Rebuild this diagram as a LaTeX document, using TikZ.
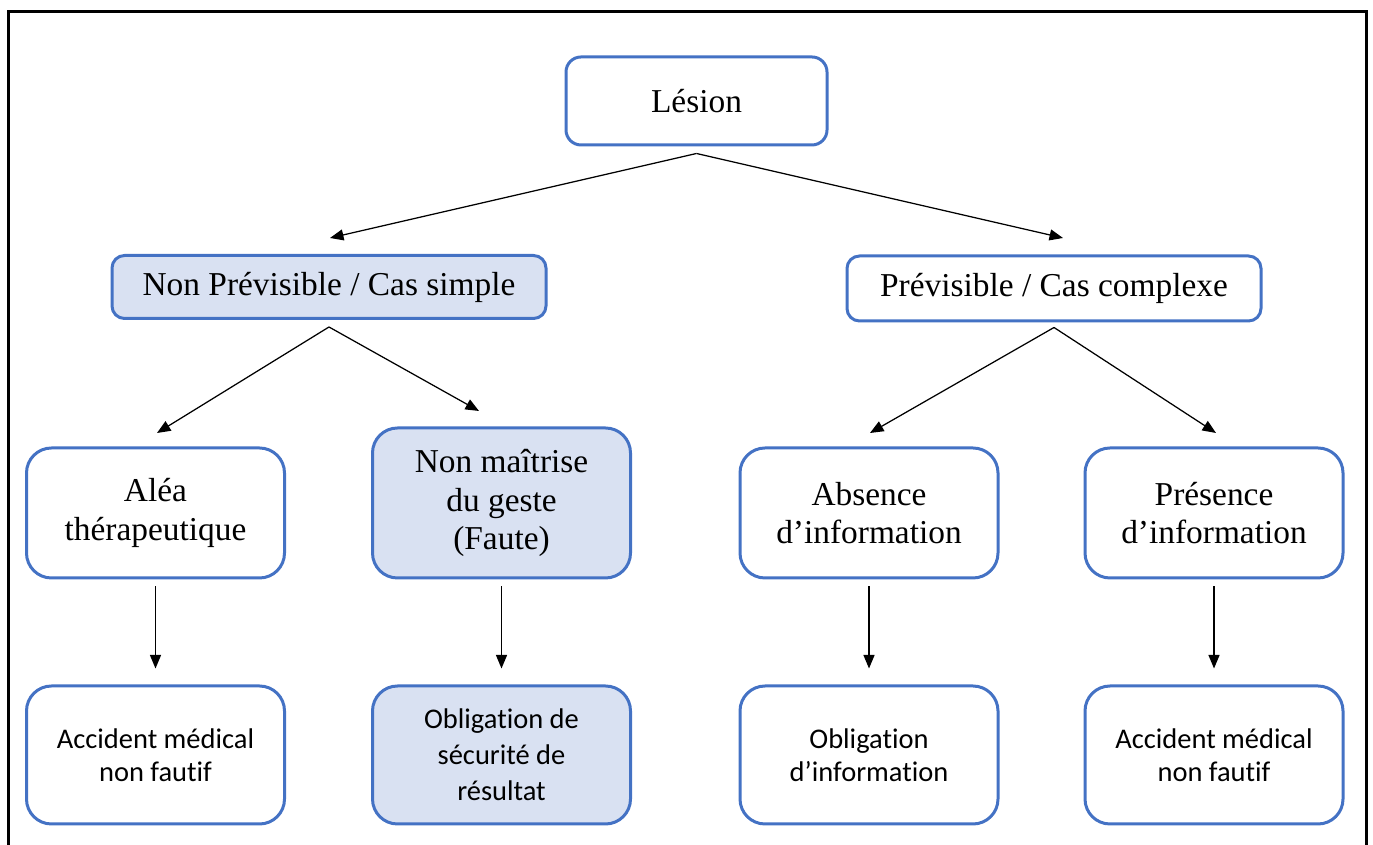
\documentclass[tikz,border=0pt]{standalone}
\usepackage{fontspec}
\setmainfont{Liberation Serif}
\newfontfamily\calibri[Ligatures=NoCommon]{Carlito}
\usetikzlibrary{arrows.meta}
\definecolor{bleu}{HTML}{4472C4}
\definecolor{bleuclair}{HTML}{D9E1F2}
\tikzset{
	boite/.style={draw=bleu, line width=0.06cm, align=center, inner sep=0pt},
	titre/.style={boite, font=\fontsize{19}{22}\selectfont},
	texte/.style={boite, rounded corners=0.5cm, minimum width=5.16cm, minimum height=2.76cm, font=\calibri\fontsize{16.2}{18.5}\selectfont},
	cas/.style={titre, rounded corners=0.5cm, minimum width=5.16cm, minimum height=2.6cm},
	fleche/.style={-{Triangle[length=0.27cm,width=0.22cm]}, line width=0.025cm},
}

\begin{document}
\begin{tikzpicture}
		%%%%% START %%%%%
		\useasboundingbox (0, 0) rectangle (27.46, 16.9);
		
		\draw[line width=0.06cm] (0.18, 0) -- (0.18, 16.66) -- (27.32, 16.66) -- (27.32, 0);
		
		\node[titre, rounded corners=0.3cm, minimum width=5.22cm, minimum height=1.76cm] (lesion) at (13.93, 14.88) {Lésion};
		
		\node[titre, fill=bleuclair, rounded corners=0.25cm, minimum width=8.68cm, minimum height=1.26cm] (nonprev) at (6.58, 11.16) {Non Prévisible / Cas simple};
		\node[titre, rounded corners=0.25cm, minimum width=8.28cm, minimum height=1.3cm] (prev) at (21.08, 11.13) {Prévisible / Cas complexe};
		
		\node[cas] (alea) at (3.11, 6.64) {Aléa\\thérapeutique};
		\node[cas, fill=bleuclair, minimum height=3cm] (faute) at (10.03, 6.84) {Non maîtrise\\du geste\\(Faute)};
		\node[cas] (absence) at (17.38, 6.64) {Absence\\d’information};
		\node[cas] (presence) at (24.28, 6.64) {Présence\\d’information};
		
		\node[texte] (accident) at (3.11, 1.8) {Accident médical\\non fautif};
		\node[texte, fill=bleuclair, font=\calibri\fontsize{16.2}{20.5}\selectfont] (securite) at (10.03, 1.8) {Obligation de\\sécurité de\\résultat};
		\node[texte] (obligation) at (17.38, 1.8) {Obligation\\d’information};
		\node[texte] (nonfautif) at (24.28, 1.8) {Accident médical\\non fautif};
		
		% pointes des fleches obliques
		\coordinate (pNonprev) at (6.6, 12.14);
		\coordinate (pPrev) at (21.26, 12.14);
		\coordinate (pAlea) at (3.14, 8.24);
		\coordinate (pFaute) at (9.58, 8.68);
		\coordinate (pAbsence) at (17.4, 8.24);
		\coordinate (pPresence) at (24.32, 8.24);
		
		\draw[fleche] ([yshift=-0.14cm]lesion.south) -- (pNonprev);
		\draw[fleche] ([yshift=-0.14cm]lesion.south) -- (pPrev);
		
		\draw[fleche] ([yshift=-0.14cm]nonprev.south) -- (pAlea);
		\draw[fleche] ([yshift=-0.14cm]nonprev.south) -- (pFaute);
		\draw[fleche] ([yshift=-0.1cm]prev.south) -- (pAbsence);
		\draw[fleche] ([yshift=-0.1cm]prev.south) -- (pPresence);
		
		\draw[fleche, shorten <=0.14cm, shorten >=0.32cm] (alea.south) -- (accident.north);
		\draw[fleche, shorten <=0.14cm, shorten >=0.32cm] (faute.south) -- (securite.north);
		\draw[fleche, shorten <=0.14cm, shorten >=0.32cm] (absence.south) -- (obligation.north);
		\draw[fleche, shorten <=0.14cm, shorten >=0.32cm] (presence.south) -- (nonfautif.north);
		
		%%%%% END %%%%%
\end{tikzpicture}
\end{document}
